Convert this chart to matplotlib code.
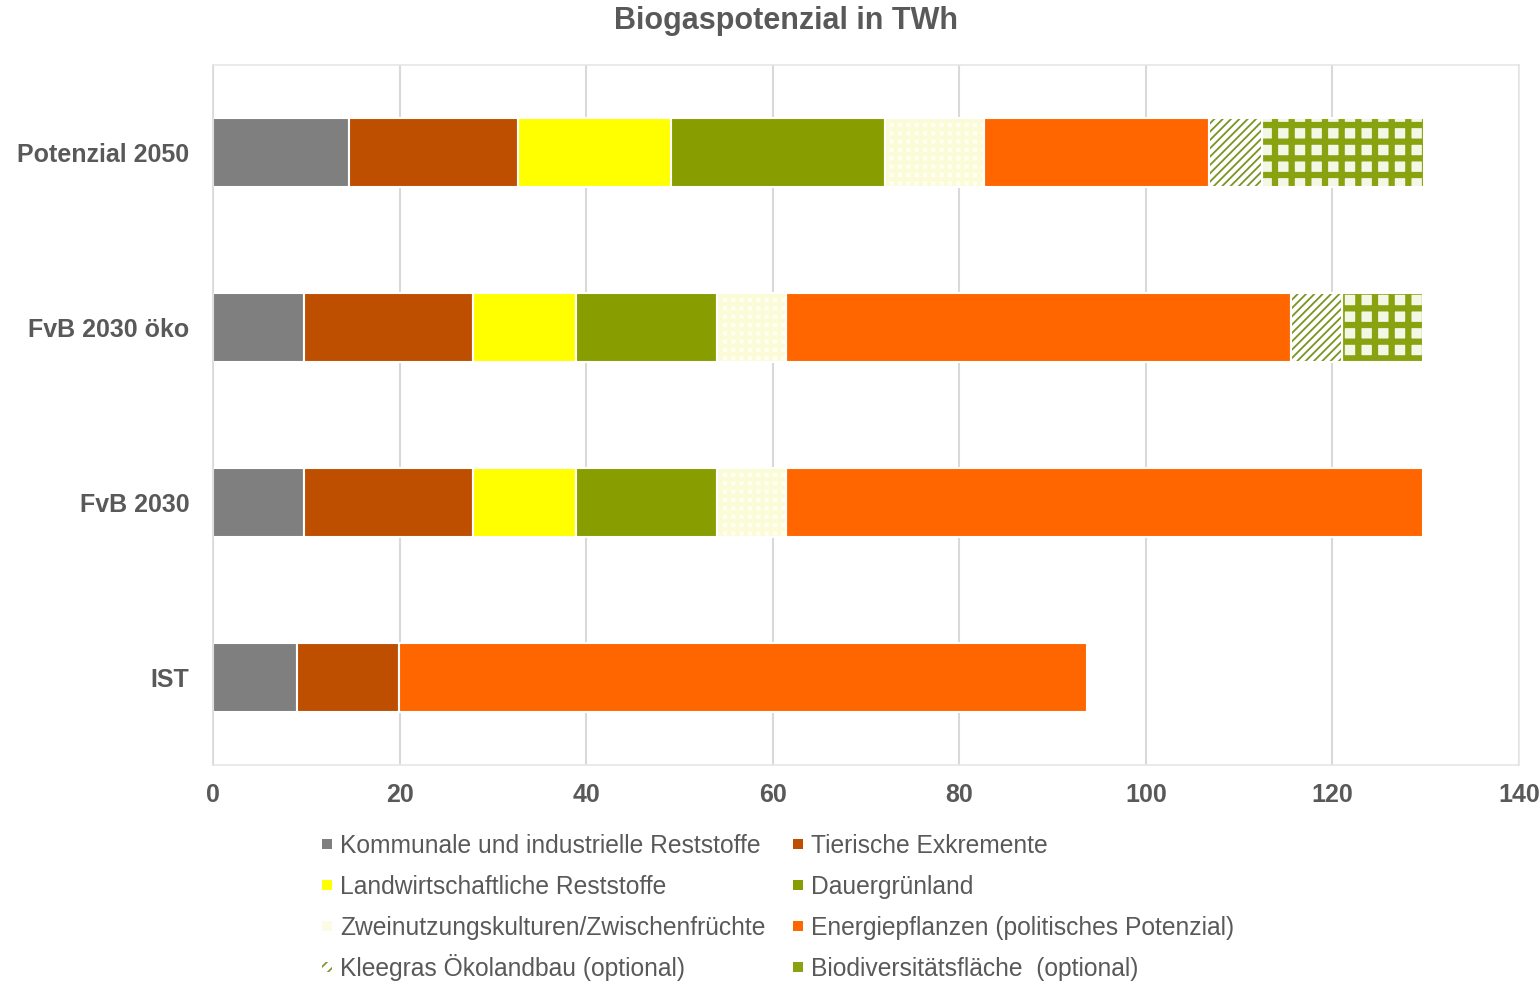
import numpy as np
import matplotlib
matplotlib.use('Agg')
import matplotlib.pyplot as plt
from matplotlib.patches import Rectangle

plt.rcParams['font.family'] = ['Liberation Sans', 'DejaVu Sans']

# data (TWh), bottom to top
categories = ['IST', 'FvB 2030', 'FvB 2030 öko', 'Potenzial 2050']
kommunale = [9.0, 9.75, 9.75, 14.6]
tierische = [10.9, 18.1, 18.1, 18.1]
landwirt = [0, 11.1, 11.1, 16.4]
dauergruen = [0, 15.1, 15.1, 22.9]
zweinutzung = [0, 7.4, 7.4, 10.7]
energie = [73.8, 68.25, 54.1, 24.1]
kleegras = [0, 0, 5.5, 5.6]
biodiv = [0, 0, 8.7, 17.4]

labels = ['Kommunale und industrielle Reststoffe', 'Tierische Exkremente',
          'Landwirtschaftliche Reststoffe', 'Dauergrünland',
          'Zweinutzungskulturen/Zwischenfrüchte', 'Energiepflanzen (politisches Potenzial)',
          'Kleegras Ökolandbau (optional)', 'Biodiversitätsfläche  (optional)']
xticks = [0, 20, 40, 60, 80, 100, 120, 140]

# style per series: facecolor, hatch, hatch colour, hatch linewidth, legend colour
styles = [
    ('#7f7f7f', None, None, 0, '#7f7f7f'),
    ('#bf4f00', None, None, 0, '#bf4f00'),
    ('#ffff00', None, None, 0, '#ffff00'),
    ('#879d00', None, None, 0, '#879d00'),
    ('#fffff4', '++', '#fbfbd8', 3.0, '#fcfce6'),
    ('#ff6600', None, None, 0, '#ff6600'),
    ('#ffffff', '////', '#7a9420', 1.3, None),
    ('#f4f6e6', '+', '#88a210', 4.5, '#88a210'),
]
series = [kommunale, tierische, landwirt, dauergruen, zweinutzung, energie, kleegras, biodiv]

grey = '#595959'
W, H = 1539, 981
fig = plt.figure(figsize=(W / 100, H / 100), dpi=100)
ax = fig.add_axes([213 / W, 1 - 765 / H, (1519 - 213) / W, (765 - 65) / H])

y = np.arange(len(categories))
h = 0.39
left = np.zeros(len(categories))
for vals, (fc, hatch, hc, hlw, lc) in zip(series, styles):
    vals = np.array(vals, dtype=float)
    for i, v in enumerate(vals):
        if v <= 0:
            continue
        if hatch:
            b = ax.barh(y[i], v, left=left[i], height=h, color=fc, hatch=hatch,
                        edgecolor=hc, linewidth=0, zorder=2)
            for p in b:
                if hasattr(p, 'set_hatch_linewidth'):
                    p.set_hatch_linewidth(hlw)
            ax.barh(y[i], v, left=left[i], height=h, fill=False,
                    edgecolor='white', linewidth=1.5, zorder=3)
        else:
            ax.barh(y[i], v, left=left[i], height=h, color=fc,
                    edgecolor='white', linewidth=1.5, zorder=2)
    left += vals

ax.set_xlim(0, 140)
ax.set_ylim(-0.5, 3.5)
ax.set_xticks(xticks)
ax.set_yticks(y)
ax.set_yticklabels(categories)
ax.grid(axis='x', color='#d9d9d9', linewidth=1.5, zorder=0)
ax.set_axisbelow(True)
for s in ax.spines.values():
    s.set_color('#e6e6e6')
    s.set_linewidth(1.2)
ax.spines['left'].set_color('#d9d9d9')
ax.tick_params(axis='both', length=0, labelcolor=grey, labelsize=18)
ax.tick_params(axis='y', pad=17)
ax.tick_params(axis='x', pad=13)
for t in ax.get_xticklabels() + ax.get_yticklabels():
    t.set_fontweight('bold')

fig.text(0.511, 0.979, 'Biogaspotenzial in TWh', ha='center', va='center',
         fontsize=22, fontweight='bold', color=grey)

# legend, laid out row-wise in two columns (fixed rows so 'Ö' doesn't shift a row)
col_x = [322, 793]
row_y = [844, 885, 926, 967]
msize = 10
for k, (lab, (fc, hatch, hc, hlw, lc)) in enumerate(zip(labels, styles)):
    cx = col_x[k % 2]
    cy = row_y[k // 2]
    if lc is None:
        r = Rectangle((cx / W, 1 - (cy + msize / 2) / H), msize / W, msize / H,
                      transform=fig.transFigure, facecolor=fc, hatch='///',
                      edgecolor=hc, linewidth=0)
        if hasattr(r, 'set_hatch_linewidth'):
            r.set_hatch_linewidth(1.2)
    else:
        r = Rectangle((cx / W, 1 - (cy + msize / 2) / H), msize / W, msize / H,
                      transform=fig.transFigure, facecolor=lc, edgecolor='none')
    fig.patches.append(r)
    fig.text((cx + 18) / W, 1 - (cy + 9) / H, lab, ha='left', va='baseline',
             fontsize=17.7, color=grey)

fig.savefig('out.png', dpi=100)
